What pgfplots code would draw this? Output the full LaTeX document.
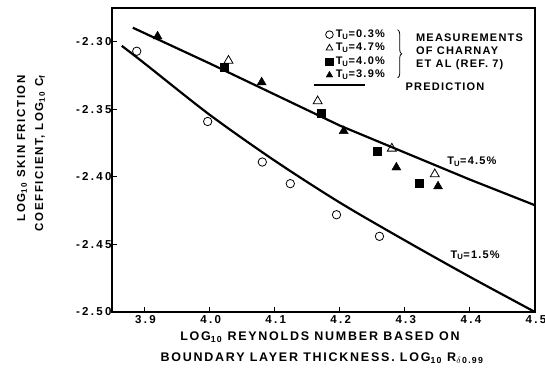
\documentclass[border=0pt]{standalone}
\usepackage{pgfplots}
\pgfplotsset{compat=1.18}
\usepackage{fontspec}
\setmainfont{Liberation Sans}
\newfontfamily\tickfont{Liberation Sans}[LetterSpace=20]
\newfontfamily\labfont{Liberation Sans}[LetterSpace=14]
\newfontfamily\legfont{Liberation Sans}[LetterSpace=11]
\usetikzlibrary{decorations.pathreplacing}
\begin{document}
\begin{tikzpicture}[x=1pt,y=1pt]
\path[use as bounding box] (0,0) rectangle (545,378);
\begin{axis}[at={(112pt,66pt)}, anchor=south west, scale only axis,
  width=423pt, height=304pt,
  xmin=3.85, xmax=4.5, ymin=-2.50, ymax=-2.275,
  xtick={3.9,4.0,4.1,4.2,4.3,4.4,4.5},
  xticklabels={3.9,4.0,4.1,4.2,4.3,4.4,4.5},
  ytick={-2.5,-2.45,-2.4,-2.35,-2.3},
  yticklabels={{-2.50},{-2.45},{-2.40},{-2.35},{-2.30}},
  tick label style={font=\tickfont\fontsize{11.5}{13}\selectfont\bfseries},
  yticklabel style={xshift=3pt},
  xticklabel style={xshift=1pt},
  axis line style={line width=1.3pt},
  tick style={line width=1pt, black},
  major tick length=5pt,
  xtick pos=bottom, ytick pos=left,
  xtick align=inside, ytick align=inside,
  clip=false,
  legend style={draw=none, fill=none, font=\legfont\fontsize{11}{12}\selectfont\bfseries,
    at={(axis cs:4.178,-2.2903)}, anchor=north west, row sep=2pt, column sep=2pt, inner sep=0pt,
    cells={anchor=west}, nodes={inner sep=0.5pt, text height=8pt, text depth=2.5pt}},
  legend image post style={mark size=3.8pt},
  legend cell align=left,
]
\addplot[only marks, mark=o, mark size=4.2pt, thick] coordinates {
(3.888,-2.307)(3.997,-2.359)(4.081,-2.389)(4.124,-2.405)(4.195,-2.428)(4.261,-2.444)};
\addlegendentry{T\textsubscript{U}=0.3\%}
\addplot[only marks, mark=triangle, mark size=5.2pt, thick] coordinates {
(4.029,-2.314)(4.166,-2.344)(4.280,-2.379)(4.346,-2.398)};
\addlegendentry{T\textsubscript{U}=4.7\%}
\addplot[only marks, mark=square*, mark size=4pt] coordinates {
(4.023,-2.319)(4.172,-2.353)(4.258,-2.381)(4.322,-2.405)};
\addlegendentry{T\textsubscript{U}=4.0\%}
\addplot[only marks, mark=triangle*, mark size=5.2pt] coordinates {
(3.920,-2.296)(4.080,-2.330)(4.206,-2.366)(4.287,-2.393)(4.351,-2.407)};
\addlegendentry{T\textsubscript{U}=3.9\%}
\addplot[line width=2.2pt, forget plot] coordinates {
(3.882,-2.2896)(4.0,-2.316)(4.1,-2.339)(4.2,-2.362)(4.3,-2.382)(4.4,-2.402)(4.5,-2.421)};
\addplot[line width=2.2pt, smooth, forget plot] coordinates {
(3.865,-2.303)(3.9,-2.316)(4.0,-2.354)(4.1,-2.388)(4.2,-2.419)(4.3,-2.447)(4.4,-2.474)(4.5,-2.500)};
\draw[line width=2pt] (axis cs:4.160,-2.3319) -- (axis cs:4.239,-2.3319);
\draw[decorate, decoration={brace, amplitude=4pt}, line width=0.8pt]
  (axis cs:4.289,-2.2911) -- (axis cs:4.289,-2.3267);
\node[anchor=north west, align=left, inner sep=0pt, font=\legfont\fontsize{11}{13}\selectfont\bfseries]
  at (axis cs:4.317,-2.2941) {MEASUREMENTS\\OF CHARNAY\\ET AL (REF. 7)};
\node[anchor=west, inner sep=0pt, font=\legfont\fontsize{11}{13}\selectfont\bfseries]
  at (axis cs:4.301,-2.3333) {PREDICTION};
\node[anchor=west, inner sep=0pt, font=\legfont\fontsize{11}{13}\selectfont\bfseries]
  at (axis cs:4.365,-2.389) {T\textsubscript{U}=4.5\%};
\node[anchor=west, inner sep=0pt, font=\legfont\fontsize{11}{13}\selectfont\bfseries]
  at (axis cs:4.370,-2.458) {T\textsubscript{U}=1.5\%};
\end{axis}
\node[font=\labfont\fontsize{12.5}{14}\selectfont\bfseries, inner sep=0pt] at (320,41)
  {LOG\textsubscript{10} REYNOLDS NUMBER BASED ON};
\node[font=\labfont\fontsize{12.5}{14}\selectfont\bfseries, inner sep=0pt] at (322,20)
  {BOUNDARY LAYER THICKNESS. LOG\textsubscript{10} R\textsubscript{$\delta$\,0.99}};
\node[font=\labfont\fontsize{11.5}{13}\selectfont\bfseries, inner sep=0pt, rotate=90, anchor=east] at (22,303)
  {LOG\textsubscript{10} SKIN FRICTION};
\node[font=\labfont\fontsize{11.5}{13}\selectfont\bfseries, inner sep=0pt, rotate=90, anchor=east] at (40,303)
  {COEFFICIENT, LOG\textsubscript{10} C\textsubscript{f}};
\end{tikzpicture}
\end{document}
